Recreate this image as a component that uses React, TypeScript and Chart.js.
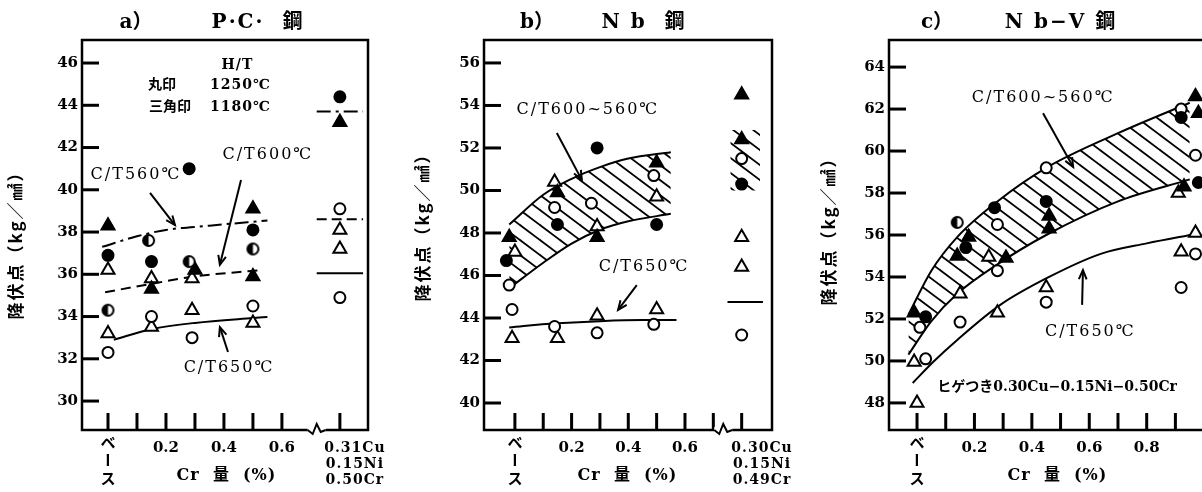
import React, { useEffect, useRef } from 'react';
import { Chart, registerables } from 'chart.js';
Chart.register(...registerables);

const SERIF = "'DejaVu Serif', 'Noto Sans CJK JP', serif";
const JP = "'Noto Sans CJK JP', 'DejaVu Serif', serif";

// ---------------- Panel a) P·C· steel ----------------
const aYTicks = [30, 32, 34, 36, 38, 40, 42, 44, 46];
const aXTickMarks = [0, 0.1, 0.2, 0.3, 0.4, 0.5, 0.6, 0.8];
const aFilledCircles = [[0, 36.9], [0.15, 36.6], [0.28, 41.0], [0.5, 38.1], [0.8, 44.4]];
const aHalfCircles = [[0, 34.3], [0.14, 37.6], [0.28, 36.6], [0.5, 37.2]];
const aOpenCircles = [[0, 32.3], [0.15, 34.0], [0.29, 33.0], [0.5, 34.5], [0.8, 39.1], [0.8, 34.9]];
const aFilledTriangles = [[0, 38.3], [0.15, 35.3], [0.3, 36.2], [0.5, 39.1], [0.5, 35.9], [0.8, 43.2]];
const aOpenTriangles = [[0, 36.2], [0, 33.2], [0.15, 35.8], [0.15, 33.5], [0.29, 34.3], [0.29, 35.8], [0.5, 33.7], [0.8, 38.1], [0.8, 37.2]];
const aCT560X = [-0.02, 0.1, 0.2, 0.35, 0.55];
const aCT560Y = [37.3, 37.8, 38.1, 38.3, 38.55];
const aCT600X = [-0.01, 0.15, 0.3, 0.53];
const aCT600Y = [35.15, 35.55, 35.9, 36.2];
const aCT650X = [0.02, 0.15, 0.3, 0.5, 0.55];
const aCT650Y = [32.9, 33.4, 33.7, 33.93, 33.98];
const aAvgX = [0.72, 0.88];
const aAvg560 = 43.7;
const aAvg600 = 38.6;
const aAvg650 = 36.05;
const aSpecialLabel = ['0.31Cu', '0.15Ni', '0.50Cr'];

// ---------------- Panel b) Nb steel ----------------
const bYTicks = [40, 42, 44, 46, 48, 50, 52, 54, 56];
const bXTickMarks = [0, 0.1, 0.2, 0.3, 0.4, 0.5, 0.6, 0.7, 0.8];
const bFilledCircles = [[-0.03, 46.7], [0.15, 48.4], [0.29, 52.0], [0.5, 48.4], [0.8, 50.3]];
const bOpenCircles = [[-0.02, 45.55], [-0.01, 44.4], [0.14, 49.2], [0.14, 43.6], [0.27, 49.4], [0.29, 43.3], [0.49, 50.7], [0.49, 43.7], [0.8, 51.5], [0.8, 43.2]];
const bFilledTriangles = [[-0.02, 47.8], [0.15, 49.9], [0.29, 47.8], [0.5, 51.3], [0.8, 54.5], [0.8, 52.4]];
const bOpenTriangles = [[0.0, 47.1], [-0.01, 43.05], [0.14, 50.4], [0.15, 43.05], [0.29, 48.3], [0.29, 44.1], [0.5, 49.7], [0.5, 44.4], [0.8, 47.8], [0.8, 46.4]];
const bBandX = [-0.02, 0.1, 0.2, 0.3, 0.4, 0.55];
const bBandUpper = [48.4, 49.8, 50.55, 51.1, 51.5, 51.8];
const bBandLower = [45.4, 46.6, 47.5, 48.15, 48.55, 48.9];
const bCT650X = [-0.02, 0.05, 0.15, 0.3, 0.45, 0.57];
const bCT650Y = [43.55, 43.65, 43.75, 43.85, 43.9, 43.9];
const bSpecBandX = [0.76, 0.865];
const bSpecBandTop = 52.85;
const bSpecBandBottom = 50.0;
const bAvgX = [0.75, 0.875];
const bAvg650 = 44.75;
const bSpecialLabel = ['0.30Cu', '0.15Ni', '0.49Cr'];

// ---------------- Panel c) Nb-V steel ----------------
const cYTicks = [48, 50, 52, 54, 56, 58, 60, 62, 64];
const cXTickMarks = [0, 0.1, 0.2, 0.3, 0.4, 0.5, 0.6, 0.7, 0.8, 0.9, 1.0];
const cFilledCircles = [[0.03, 52.1], [0.17, 55.4], [0.27, 57.3], [0.45, 57.6], [0.92, 61.6], [0.98, 58.5]];
const cHalfCircles = [[0.14, 56.6]];
const cOpenCircles = [[0.01, 51.6], [0.03, 50.1], [0.15, 51.85], [0.28, 56.5], [0.28, 54.3], [0.45, 59.2], [0.45, 52.8], [0.92, 62.0], [0.97, 59.8], [0.92, 53.5], [0.97, 55.1]];
const cFilledTriangles = [[-0.01, 52.3], [0.18, 55.9], [0.14, 55.0], [0.31, 54.9], [0.46, 56.9], [0.46, 56.3], [0.97, 62.6], [0.98, 61.8], [0.93, 58.3]];
const cOpenTriangles = [[-0.01, 49.95], [0.0, 48.0], [0.15, 53.2], [0.25, 54.95], [0.28, 52.3], [0.45, 53.5], [0.91, 58.0], [0.92, 55.2], [0.97, 56.1]];
const cBandX = [-0.03, 0.05, 0.14, 0.28, 0.45, 0.7, 0.95];
const cBandUpper = [52.2, 54.3, 55.9, 57.6, 59.2, 60.85, 62.3];
const cBandLower = [50.3, 51.9, 53.2, 54.6, 56.0, 57.6, 58.65];
const cCT650X = [-0.015, 0.056, 0.14, 0.29, 0.46, 0.64, 0.8, 0.97];
const cCT650Y = [48.95, 49.95, 51.0, 52.67, 54.0, 55.1, 55.6, 56.05];

// shared labels
const xNumLabels = ['0.2', '0.4', '0.6', '0.8'];
const xNumValues = [0.2, 0.4, 0.6, 0.8];
const baseLabel = ['ベ', 'ー', 'ス'];
const xTitle = 'Cr  量  (%)';
const yTitle = '降伏点（kg／㎟）';

type Pt = number[];
const xy = (xs: number[], ys: number[]) => xs.map((x, i) => ({ x, y: ys[i] }));
const pts = (a: Pt[]) => a.map(([x, y]) => ({ x, y }));

function makeHalfCircle() {
  const s = 15;
  const cv = document.createElement('canvas');
  cv.width = s; cv.height = s;
  const g = cv.getContext('2d')!;
  g.fillStyle = '#fff';
  g.beginPath(); g.arc(7.5, 7.5, 5.5, 0, Math.PI * 2); g.fill();
  g.fillStyle = '#000';
  g.beginPath(); g.arc(7.5, 7.5, 5.5, Math.PI / 2, Math.PI * 1.5); g.closePath(); g.fill();
  g.lineWidth = 2; g.strokeStyle = '#000';
  g.beginPath(); g.arc(7.5, 7.5, 5.5, 0, Math.PI * 2); g.stroke();
  return cv;
}

function makePattern(ctx: CanvasRenderingContext2D) {
  const W = 20, H = 15;
  const cv = document.createElement('canvas');
  cv.width = W; cv.height = H;
  const g = cv.getContext('2d')!;
  g.strokeStyle = '#000'; g.lineWidth = 1.8;
  for (const n of [-1, 0, 1]) {
    g.beginPath(); g.moveTo(-W, -H + n * H); g.lineTo(2 * W, 2 * H + n * H); g.stroke();
  }
  return ctx.createPattern(cv, 'repeat')!;
}

const pointDs = (data: Pt[], style: any, filled: boolean, r: number) => ({
  data: pts(data), showLine: false, pointStyle: style, pointRadius: r, pointHoverRadius: r,
  pointBackgroundColor: filled ? '#000' : '#fff', pointBorderColor: '#000', pointBorderWidth: 2,
  order: 0, clip: false,
});
const curveDs = (xs: number[], ys: number[], dash: number[] = [], extra: any = {}) => ({
  data: xy(xs, ys), showLine: true, borderColor: '#000', borderWidth: 2, borderDash: dash,
  pointRadius: 0, cubicInterpolationMode: 'monotone', fill: false, order: 1, ...extra,
});

function drawText(ctx: CanvasRenderingContext2D, s: string, x: number, y: number, font: string, spacing = 0, align: CanvasTextAlign = 'center') {
  ctx.font = font;
  (ctx as any).letterSpacing = spacing + 'px';
  ctx.textAlign = align;
  ctx.textBaseline = 'middle';
  ctx.fillStyle = '#000';
  ctx.fillText(s, x + (align === 'center' ? spacing / 2 : 0), y);
  (ctx as any).letterSpacing = '0px';
}

function arrow(ctx: CanvasRenderingContext2D, x1: number, y1: number, x2: number, y2: number) {
  ctx.beginPath(); ctx.moveTo(x1, y1); ctx.lineTo(x2, y2); ctx.stroke();
  const a = Math.atan2(y2 - y1, x2 - x1), L = 10;
  ctx.beginPath();
  ctx.moveTo(x2 - L * Math.cos(a - 0.4), y2 - L * Math.sin(a - 0.4));
  ctx.lineTo(x2, y2);
  ctx.lineTo(x2 - L * Math.cos(a + 0.4), y2 - L * Math.sin(a + 0.4));
  ctx.stroke();
}

type Note = { t: string; x: number; y: number; font?: string; sp?: number };
type Arrow = { x1: number; y1: number; x2: number; y2: number };
type PanelCfg = {
  canvasW: number; plotLeft: number; plotRight: number;
  xMin: number; xMax: number; yMin: number; yMax: number;
  yTicks: number[]; xTickMarks: number[]; xLabelVals: number[]; xLabels: string[];
  special?: string[]; specialX?: number; breakX?: number;
  titleA: string; titleAX: number; titleB: string; titleBX: number;
  yTitleX: number; yTitleY: number; xTitleX: number;
  notes: Note[]; arrows: Arrow[];
  datasets: (pattern: CanvasPattern, half: HTMLCanvasElement) => any[];
};

const NOTE_FONT = `16px ${SERIF}`;
const LEG_FONT = `bold 14px ${SERIF}`;

const panelA: PanelCfg = {
  canvasW: 400, plotLeft: 82, plotRight: 368,
  xMin: -0.0897, xMax: 0.897, yMin: 28.63, yMax: 47.09,
  yTicks: aYTicks, xTickMarks: aXTickMarks, xLabelVals: xNumValues.slice(0, 3), xLabels: xNumLabels.slice(0, 3),
  special: aSpecialLabel, specialX: 0.85, breakX: 0.72,
  titleA: 'a）', titleAX: 136, titleB: 'P·C·  鋼', titleBX: 257,
  yTitleX: 16, yTitleY: 242, xTitleX: 226,
  notes: [
    { t: 'C/T560℃', x: 0.093, y: 40.7 },
    { t: 'C/T600℃', x: 0.548, y: 41.64 },
    { t: 'C/T650℃', x: 0.414, y: 31.56 },
    { t: 'H/T', x: 0.445, y: 45.9, font: LEG_FONT, sp: 1 },
    { t: '丸印', x: 0.186, y: 44.96, font: LEG_FONT, sp: 0 },
    { t: '1250℃', x: 0.455, y: 44.96, font: LEG_FONT, sp: 1 },
    { t: '三角印', x: 0.214, y: 43.92, font: LEG_FONT, sp: 0 },
    { t: '1180℃', x: 0.455, y: 43.92, font: LEG_FONT, sp: 1 },
  ],
  arrows: [
    { x1: 0.145, y1: 39.85, x2: 0.231, y2: 38.33 },
    { x1: 0.459, y1: 40.46, x2: 0.386, y2: 36.45 },
    { x1: 0.414, y1: 32.32, x2: 0.386, y2: 33.5 },
  ],
  datasets: (pat, half) => [
    curveDs(aCT560X, aCT560Y, [14, 5, 3, 5]),
    curveDs(aCT600X, aCT600Y, [10, 6]),
    curveDs(aCT650X, aCT650Y),
    curveDs(aAvgX, [aAvg560, aAvg560], [14, 5, 3, 5]),
    curveDs(aAvgX, [aAvg600, aAvg600], [10, 5]),
    curveDs(aAvgX, [aAvg650, aAvg650]),
    pointDs(aFilledCircles, 'circle', true, 5.5),
    pointDs(aHalfCircles, half, true, 5.5),
    pointDs(aOpenCircles, 'circle', false, 5.5),
    pointDs(aFilledTriangles, 'triangle', true, 7.5),
    pointDs(aOpenTriangles, 'triangle', false, 7.5),
  ],
};

const panelB: PanelCfg = {
  canvasW: 400, plotLeft: 84, plotRight: 372,
  xMin: -0.109, xMax: 0.907, yMin: 38.73, yMax: 57.08,
  yTicks: bYTicks, xTickMarks: bXTickMarks, xLabelVals: xNumValues.slice(0, 3), xLabels: xNumLabels.slice(0, 3),
  special: bSpecialLabel, specialX: 0.87, breakX: 0.735,
  titleA: 'b）', titleAX: 137, titleB: 'N b  鋼', titleBX: 243,
  yTitleX: 23, yTitleY: 224, xTitleX: 227,
  notes: [
    { t: 'C/T600~560℃', x: 0.254, y: 53.79 },
    { t: 'C/T650℃', x: 0.452, y: 46.4 },
  ],
  arrows: [
    { x1: 0.148, y1: 52.7, x2: 0.236, y2: 50.5 },
    { x1: 0.43, y1: 45.55, x2: 0.364, y2: 44.38 },
  ],
  datasets: (pat, half) => [
    curveDs(bBandX, bBandUpper, [], { fill: '+1', backgroundColor: pat, order: 2 }),
    curveDs(bBandX, bBandLower, [], { order: 2 }),
    curveDs(bSpecBandX, [bSpecBandTop, bSpecBandTop], [], { fill: '+1', backgroundColor: pat, borderWidth: 0, borderColor: 'rgba(0,0,0,0)', order: 2 }),
    curveDs(bSpecBandX, [bSpecBandBottom, bSpecBandBottom], [], { borderWidth: 0, borderColor: 'rgba(0,0,0,0)', order: 2 }),
    curveDs(bCT650X, bCT650Y),
    curveDs(bAvgX, [bAvg650, bAvg650]),
    pointDs(bFilledCircles, 'circle', true, 5.5),
    pointDs(bOpenCircles, 'circle', false, 5.5),
    pointDs(bFilledTriangles, 'triangle', true, 7.5),
    pointDs(bOpenTriangles, 'triangle', false, 7.5),
  ],
};

const panelC: PanelCfg = {
  canvasW: 460, plotLeft: 89, plotRight: 440,
  xMin: -0.0976, xMax: 1.125, yMin: 46.71, yMax: 65.29,
  yTicks: cYTicks, xTickMarks: cXTickMarks, xLabelVals: xNumValues, xLabels: xNumLabels,
  titleA: 'c）', titleAX: 137, titleB: 'N b−V 鋼', titleBX: 260,
  yTitleX: 29, yTitleY: 228, xTitleX: 257,
  notes: [
    { t: 'C/T600~560℃', x: 0.436, y: 62.52 },
    { t: 'C/T650℃', x: 0.6, y: 51.38 },
    { t: 'ヒゲつき0.30Cu−0.15Ni−0.50Cr', x: 0.488, y: 48.76, font: `bold 14px ${SERIF}`, sp: 0 },
  ],
  arrows: [
    { x1: 0.439, y1: 61.8, x2: 0.544, y2: 59.24 },
    { x1: 0.575, y1: 52.67, x2: 0.578, y2: 54.33 },
  ],
  datasets: (pat, half) => [
    curveDs(cBandX, cBandUpper, [], { fill: '+1', backgroundColor: pat, order: 2 }),
    curveDs(cBandX, cBandLower, [], { order: 2 }),
    curveDs(cCT650X, cCT650Y),
    pointDs(cFilledCircles, 'circle', true, 5.5),
    pointDs(cHalfCircles, half, true, 5.5),
    pointDs(cOpenCircles, 'circle', false, 5.5),
    pointDs(cFilledTriangles, 'triangle', true, 7.5),
    pointDs(cOpenTriangles, 'triangle', false, 7.5),
  ],
};

function decor(p: PanelCfg) {
  return {
    id: 'decor',
    beforeDatasetsDraw(chart: any) {
      const { ctx, chartArea: ca } = chart;
      const { x, y } = chart.scales;
      ctx.save();
      ctx.strokeStyle = '#000';
      ctx.lineWidth = 2.5;
      ctx.strokeRect(ca.left, ca.top, ca.right - ca.left, ca.bottom - ca.top);
      ctx.lineWidth = 3;
      p.yTicks.forEach((v) => {
        const py = y.getPixelForValue(v);
        ctx.beginPath(); ctx.moveTo(ca.left, py); ctx.lineTo(ca.left + 17, py); ctx.stroke();
      });
      p.xTickMarks.forEach((v) => {
        const px = x.getPixelForValue(v);
        ctx.beginPath(); ctx.moveTo(px, ca.bottom); ctx.lineTo(px, ca.bottom - 17); ctx.stroke();
      });
      if (p.breakX != null) {
        const px = x.getPixelForValue(p.breakX), b = ca.bottom;
        ctx.fillStyle = '#fff';
        ctx.fillRect(px - 9, b - 3, 18, 6);
        ctx.lineWidth = 2;
        ctx.beginPath();
        ctx.moveTo(px - 9, b); ctx.lineTo(px - 4, b + 4); ctx.lineTo(px, b - 6);
        ctx.lineTo(px + 4, b + 2); ctx.lineTo(px + 9, b);
        ctx.stroke();
      }
      ctx.restore();
    },
    afterDatasetsDraw(chart: any) {
      const { ctx } = chart;
      const { x, y } = chart.scales;
      ctx.save();
      p.notes.forEach((n) => {
        drawText(ctx, n.t, x.getPixelForValue(n.x), y.getPixelForValue(n.y), n.font || NOTE_FONT, n.sp ?? 2);
      });
      ctx.strokeStyle = '#000';
      ctx.lineWidth = 2;
      p.arrows.forEach((a) => {
        arrow(ctx, x.getPixelForValue(a.x1), y.getPixelForValue(a.y1), x.getPixelForValue(a.x2), y.getPixelForValue(a.y2));
      });
      ctx.restore();
    },
    afterDraw(chart: any) {
      const { ctx, chartArea: ca } = chart;
      const { x } = chart.scales;
      ctx.save();
      const labFont = `bold 15px ${SERIF}`;
      const bx = x.getPixelForValue(0);
      baseLabel.forEach((ch, i) => {
        const yy = ca.bottom + 12 + i * 18;
        if (ch === 'ー') {
          ctx.save(); ctx.translate(bx, yy); ctx.rotate(Math.PI / 2);
          drawText(ctx, ch, 0, 0, `bold 15px ${JP}`);
          ctx.restore();
        } else {
          drawText(ctx, ch, bx, yy, `bold 15px ${JP}`);
        }
      });
      p.xLabelVals.forEach((v, i) => {
        drawText(ctx, p.xLabels[i], x.getPixelForValue(v), ca.bottom + 18, labFont);
      });
      if (p.special && p.specialX != null) {
        p.special.forEach((s, i) => {
          drawText(ctx, s, x.getPixelForValue(p.specialX!), ca.bottom + 18 + i * 16, `bold 14px ${SERIF}`, 1);
        });
      }
      drawText(ctx, xTitle, p.xTitleX, ca.bottom + 46, `bold 16px ${SERIF}`, 1);
      drawText(ctx, p.titleA, p.titleAX, 23, `bold 20px ${SERIF}`);
      drawText(ctx, p.titleB, p.titleBX, 23, `bold 20px ${SERIF}`, 2);
      ctx.save();
      ctx.translate(p.yTitleX, p.yTitleY);
      ctx.rotate(-Math.PI / 2);
      drawText(ctx, yTitle, 0, 0, `bold 17px ${JP}`, 2);
      ctx.restore();
      ctx.restore();
    },
  };
}

function buildChart(canvas: HTMLCanvasElement, p: PanelCfg) {
  const ctx = canvas.getContext('2d')!;
  const pattern = makePattern(ctx);
  const half = makeHalfCircle();
  return new Chart(canvas, {
    type: 'line',
    data: { datasets: p.datasets(pattern, half) },
    options: {
      responsive: false,
      animation: false,
      devicePixelRatio: 1,
      events: [],
      layout: { padding: { left: 0, top: 40, right: p.canvasW - p.plotRight, bottom: 0 } },
      plugins: { legend: { display: false }, tooltip: { enabled: false }, title: { display: false } },
      scales: {
        x: {
          type: 'linear', min: p.xMin, max: p.xMax,
          ticks: { display: false },
          grid: { display: false, drawTicks: false },
          border: { display: false },
          afterFit: (s: any) => { s.height = 62; },
        },
        y: {
          type: 'linear', min: p.yMin, max: p.yMax,
          afterBuildTicks: (s: any) => { s.ticks = p.yTicks.map((v) => ({ value: v })); },
          ticks: { color: '#000', padding: 4, font: { family: SERIF, weight: 'bold', size: 15 } },
          grid: { display: false, drawTicks: false },
          border: { display: false },
          afterFit: (s: any) => { s.width = p.plotLeft; },
        },
      },
    } as any,
    plugins: [decor(p)],
  });
}

function Panel({ cfg, left }: { cfg: PanelCfg; left: number }) {
  const ref = useRef<HTMLCanvasElement>(null);
  useEffect(() => {
    const chart = buildChart(ref.current!, cfg);
    return () => chart.destroy();
  }, []);
  return (
    <canvas
      ref={ref}
      width={cfg.canvasW}
      height={492}
      style={{ position: 'absolute', left, top: 0, width: cfg.canvasW, height: 492 }}
    />
  );
}

export default function App() {
  return (
    <div style={{ position: 'fixed', left: 0, top: 0, width: 1202, height: 492, overflow: 'hidden', background: '#fff' }}>
      <Panel cfg={panelA} left={0} />
      <Panel cfg={panelB} left={400} />
      <Panel cfg={panelC} left={800} />
    </div>
  );
}
